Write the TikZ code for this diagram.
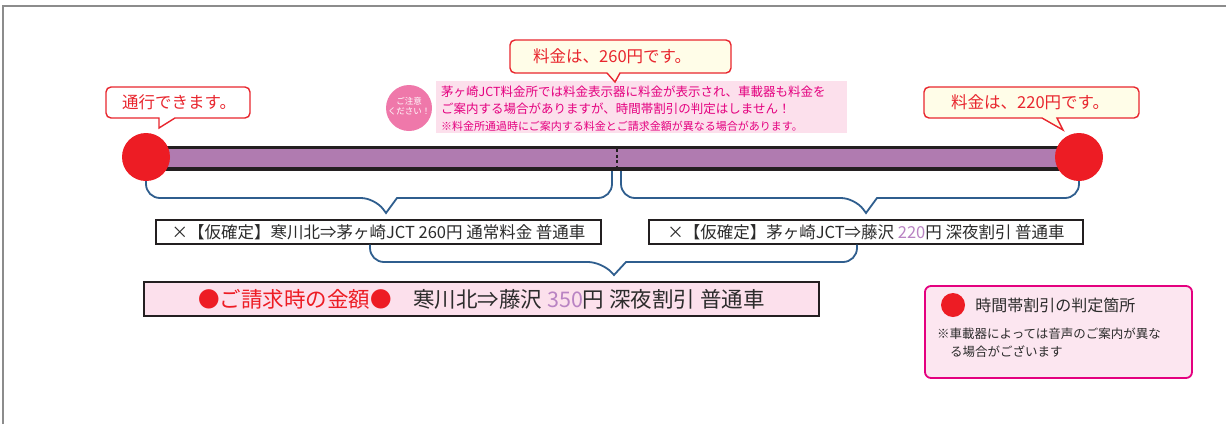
\documentclass[tikz,border=0pt]{standalone}
\usepackage{fontspec}
\setmainfont{Noto Sans CJK JP}
\usepackage{xcolor}
\usetikzlibrary{positioning}

\definecolor{framegray}{HTML}{8C8C8C}
\definecolor{stopred}{HTML}{ED1C24}
\definecolor{bubblered}{HTML}{E8262E}
\definecolor{bubblefill}{HTML}{FFFDE8}
\definecolor{barpurple}{HTML}{B07BB0}
\definecolor{barblack}{HTML}{231F20}
\definecolor{spanblue}{HTML}{2F5E8E}
\definecolor{notepink}{HTML}{FCE0EC}
\definecolor{notedot}{HTML}{EF78AA}
\definecolor{notetext}{HTML}{E4007F}
\definecolor{priceviolet}{HTML}{B983C3}
\definecolor{inkgray}{HTML}{2B2B2B}
\definecolor{legendfill}{HTML}{FCE6F0}

\tikzset{
  frameline/.style={draw=framegray, line width=2},
  stopdot/.style={circle, fill=stopred, minimum size=48, inner sep=0},
  bubble/.style={draw=bubblered, line width=1.4, fill=#1},
  bubbletext/.style={text=bubblered, inner sep=0, font=\fontsize{16.5}{19}\selectfont},
  span/.style={draw=spanblue, line width=1.8},
  rowbox/.style={draw=barblack, line width=1.2, fill=white, inner sep=0,
    text=inkgray, font=\fontsize{16.5}{19}\selectfont},
  notetxt/.style={text=notetext, inner sep=0, anchor=west},
}

\begin{document}
\begin{tikzpicture}[x=1pt,y=-1pt]
	\useasboundingbox (0,0) rectangle (1226,424);
	% frame
	\draw[frameline] (3,424) -- (3,6) -- (1226,6);

	% road
	\fill[barblack] (146,146) rectangle (1079,171);
	\fill[barpurple] (146,149) rectangle (1079,167);
	\coordinate (jct) at (617,157);
	\draw[barblack, line width=1.6, dash pattern=on 3pt off 2.5pt] (617,149) -- (617,167);
	\node[stopdot] (entry) at (146,157) {};
	\node[stopdot] (exit) at (1079,157) {};

	% caution note
	\fill[notepink] (436,81) rectangle (847,133);
	\node[circle, fill=notedot, minimum size=46, inner sep=0] (caution) at (409,108) {};
	\node[text=white, align=center, inner sep=0, font=\fontsize{8.5}{10.5}\selectfont] (cautiontxt) at (409,106) {ご注意\\ください！};
	\node[notetxt, font=\fontsize{12.5}{14}\selectfont] (note1) at (441,92) {茅ヶ崎JCT料金所では料金表示器に料金が表示され、車載器も料金を};
	\node[notetxt, font=\fontsize{12.5}{14}\selectfont] (note2) at (441,109) {ご案内する場合がありますが、時間帯割引の判定はしません！};
	\node[notetxt, font=\fontsize{11}{13}\selectfont] (note3) at (441,126) {※料金所通過時にご案内する料金とご請求金額が異なる場合があります。};

	% callouts
	\draw[bubble=white] (159,118) [rounded corners=5] -- (106,118) -- (106,87) -- (250,87) -- (250,118) [sharp corners] -- (175,118) -- (159,128) -- cycle;
	\node[bubbletext, anchor=west] (passmsg) at (122,102.5) {通行できます。};
	\draw[bubble=bubblefill] (607,73) [rounded corners=5] -- (510,73) -- (510,40) -- (731,40) -- (731,73) [sharp corners] -- (620,73) -- (615,82) -- cycle;
	\node[bubbletext, anchor=west] (fare260) at (533,56.5) {料金は、260円です。};
	\draw[bubble=bubblefill] (1042,118) [rounded corners=5] -- (924,118) -- (924,87) -- (1139,87) -- (1139,118) [sharp corners] -- (1057,118) -- (1063,130) -- cycle;
	\node[bubbletext, anchor=west] (fare220) at (951,102.5) {料金は、220円です。};

	% provisional fares
	\node[rowbox, minimum width=445, minimum height=24] (legA) at (378.5,232) {×【仮確定】寒川北⇒茅ヶ崎JCT 260円 通常料金 普通車};
	\node[rowbox, minimum width=434, minimum height=24] (legB) at (866,232) {×【仮確定】茅ヶ崎JCT⇒藤沢 \textcolor{priceviolet}{220}円 深夜割引 普通車};
	\node[rowbox, fill=notepink, minimum width=675, minimum height=34, font=\fontsize{21.5}{24}\selectfont] (total) at (481.5,299) {\textcolor{stopred}{●ご請求時の金額●}　寒川北⇒藤沢 \textcolor{priceviolet}{350}円 深夜割引 普通車};

	% spans
	\draw[span] (entry.south) [rounded corners=14] -- (146,198) -- (375,198) [sharp corners] -- (386,213) -- (397,198) [rounded corners=14] -- (612,198) -- (612,171);
	\draw[span] (621,171) [rounded corners=14] -- (621,198) -- (855,198) [sharp corners] -- (866,213) -- (877,198) [rounded corners=14] -- (1079,198) -- (exit.south);
	\draw[span] (legA.south -| 370,0) [rounded corners=14] -- (370,262) -- (602,262) [sharp corners] -- (614,275) -- (626,262) [rounded corners=14] -- (857,262) -- (legB.south -| 857,0);

	% legend
	\draw[draw=notetext, line width=1.8, fill=legendfill, rounded corners=6] (925,286) rectangle (1192,378);
	\node[circle, fill=stopred, minimum size=24, inner sep=0] (keydot) at (953,305) {};
	\node[right=10 of keydot, inner sep=0, text=inkgray, font=\fontsize{16}{19}\selectfont] (keytxt) {時間帯割引の判定箇所};
	\node[anchor=west, inner sep=0, text=inkgray, font=\fontsize{12.5}{14}\selectfont] (keynote1) at (937,334) {※車載器によっては音声のご案内が異な};
	\node[anchor=west, inner sep=0, text=inkgray, font=\fontsize{12.5}{14}\selectfont] (keynote2) at (950,352) {る場合がございます};
\end{tikzpicture}
\end{document}
